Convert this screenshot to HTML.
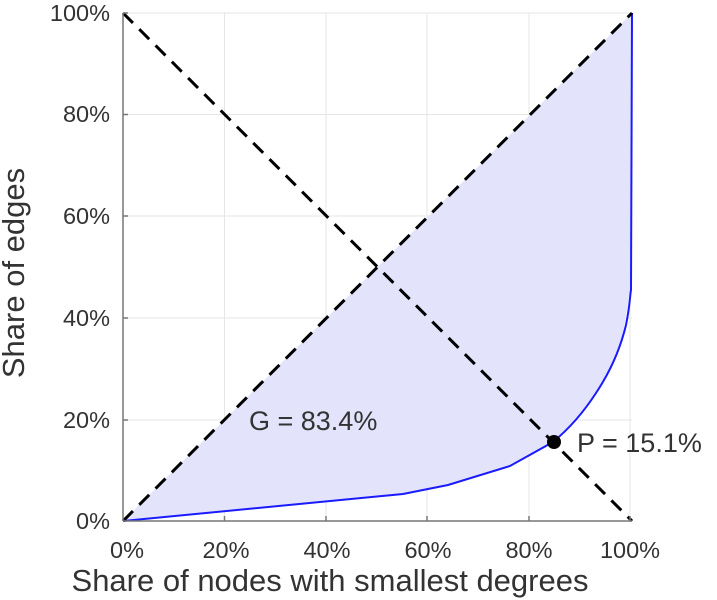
<!DOCTYPE html><html><head><style>body{margin:0;background:#fff}svg{display:block}text{font-family:"Liberation Sans",sans-serif;fill:#333}</style></head><body>
<svg width="717" height="600" viewBox="0 0 717 600">
<g stroke="#e6e6e6" stroke-width="1">
<line x1="224.5" y1="13" x2="224.5" y2="521"/><line x1="326" y1="13" x2="326" y2="521"/><line x1="427" y1="13" x2="427" y2="521"/><line x1="529" y1="13" x2="529" y2="521"/><line x1="630" y1="13" x2="630" y2="521"/>
<line x1="123" y1="13" x2="632" y2="13"/><line x1="123" y1="114.5" x2="632" y2="114.5"/><line x1="123" y1="216" x2="632" y2="216"/><line x1="123" y1="318" x2="632" y2="318"/><line x1="123" y1="420" x2="632" y2="420"/>
</g>
<path d="M123,521 L403,494 L448,485 L510,466 L553,442 L585,410 L608,375 L622,340 L630,290 L632,13 Z" fill="#e3e3fb" stroke="none"/>
<path d="M123,521 L403,494 L448,485 L510,466 L553,442 C570,428 585,410 596,393 C610,372 620,350 626,325 C630,305 630,295 631,290 L632,13" fill="none" stroke="#1a1aff" stroke-width="2"/>
<g stroke="#000" stroke-width="3" stroke-dasharray="14,9">
<line x1="123" y1="521" x2="632" y2="13"/><line x1="123" y1="13" x2="632" y2="521"/>
</g>
<circle cx="554" cy="442" r="7" fill="#000"/>
<g stroke="#777" stroke-width="1.5"><line x1="123" y1="13" x2="123" y2="521"/><line x1="123" y1="521" x2="632" y2="521"/>
<line x1="224.5" y1="521" x2="224.5" y2="516"/><line x1="326" y1="521" x2="326" y2="516"/><line x1="427" y1="521" x2="427" y2="516"/><line x1="529" y1="521" x2="529" y2="516"/><line x1="630" y1="521" x2="630" y2="516"/>
<line x1="123" y1="13" x2="128" y2="13"/><line x1="123" y1="114.5" x2="128" y2="114.5"/><line x1="123" y1="216" x2="128" y2="216"/><line x1="123" y1="318" x2="128" y2="318"/><line x1="123" y1="420" x2="128" y2="420"/></g>
<g font-size="23.5" text-anchor="end">
<text x="110" y="21">100%</text><text x="110" y="122">80%</text><text x="110" y="224">60%</text><text x="110" y="326">40%</text><text x="110" y="428">20%</text><text x="110" y="529">0%</text></g>
<g font-size="23.5" text-anchor="middle">
<text x="127" y="558">0%</text><text x="226" y="558">20%</text><text x="327" y="558">40%</text><text x="428" y="558">60%</text><text x="529" y="558">80%</text><text x="630" y="558">100%</text></g>
<text x="330" y="591" font-size="31" text-anchor="middle">Share of nodes with smallest degrees</text>
<text transform="translate(24,273) rotate(-90)" font-size="31" text-anchor="middle">Share of edges</text>
<text x="249" y="430" font-size="27">G = 83.4%</text>
<text x="577" y="452" font-size="27">P = 15.1%</text>
</svg></body></html>
